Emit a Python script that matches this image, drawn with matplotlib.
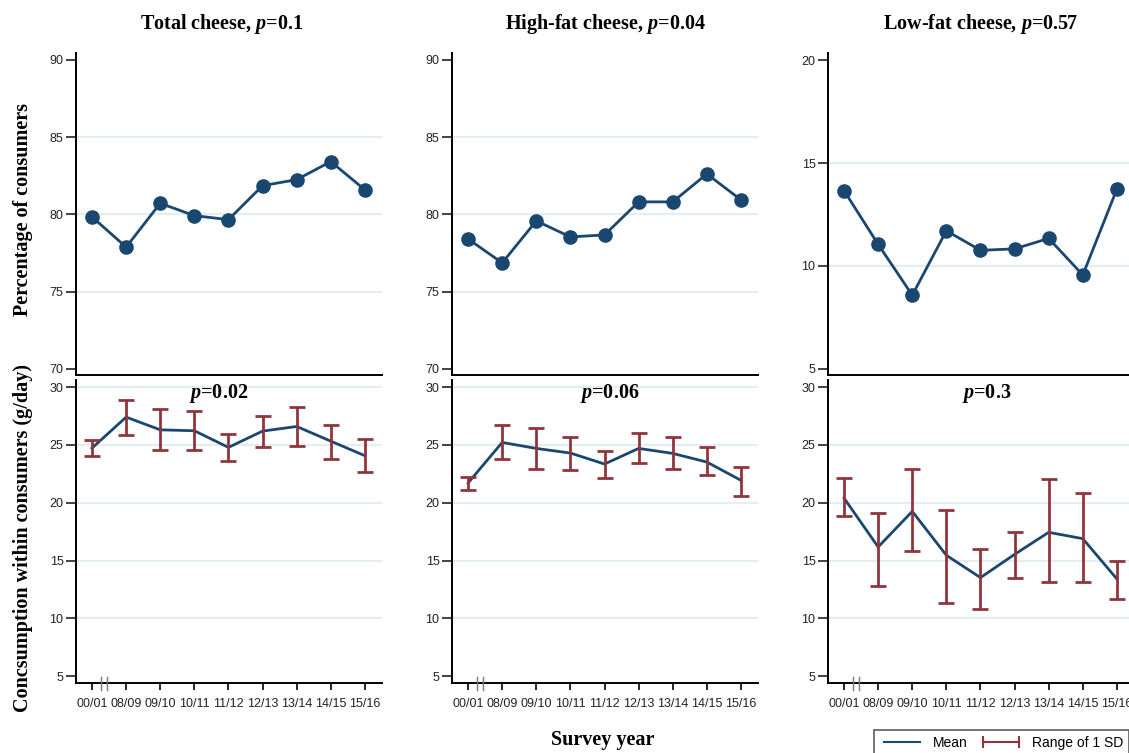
import numpy as np
import matplotlib
matplotlib.use('Agg')
import matplotlib.pyplot as plt
from matplotlib.lines import Line2D

plt.rcParams['mathtext.fontset'] = 'custom'
plt.rcParams['mathtext.rm'] = 'Liberation Serif:bold'
plt.rcParams['mathtext.it'] = 'Liberation Serif:bold:italic'
plt.rcParams['mathtext.bf'] = 'Liberation Serif:bold'

years = ['00/01', '08/09', '09/10', '10/11', '11/12', '12/13', '13/14', '14/15', '15/16']

titles = ['Total cheese, $\\it{p}$=0.1', 'High-fat cheese, $\\it{p}$=0.04', 'Low-fat cheese, $\\it{p}$=0.57']
p_bottom = ['$\\it{p}$=0.02', '$\\it{p}$=0.06', '$\\it{p}$=0.3']

# percentage of consumers
pct_total = [79.84, 77.88, 80.72, 79.92, 79.66, 81.86, 82.25, 83.42, 81.59]
pct_high = [78.41, 76.86, 79.58, 78.54, 78.67, 80.81, 80.81, 82.62, 80.94]
pct_low = [13.66, 11.05, 8.58, 11.71, 10.76, 10.83, 11.34, 9.56, 13.74]

# consumption within consumers (g/day): mean, mean - SD, mean + SD
mean_total = [24.73, 27.41, 26.31, 26.23, 24.79, 26.20, 26.60, 25.33, 24.07]
lo_total = [24.04, 25.88, 24.56, 24.56, 23.61, 24.82, 24.90, 23.81, 22.66]
hi_total = [25.39, 28.93, 28.07, 27.93, 25.97, 27.49, 28.30, 26.77, 25.51]

mean_high = [21.71, 25.22, 24.70, 24.30, 23.35, 24.70, 24.27, 23.52, 21.94]
lo_high = [21.13, 23.75, 22.94, 22.86, 22.17, 23.46, 22.89, 22.37, 20.55]
hi_high = [22.22, 26.69, 26.46, 25.71, 24.44, 26.05, 25.71, 24.79, 23.12]

mean_low = [20.40, 16.17, 19.25, 15.45, 13.52, 15.53, 17.44, 16.89, 13.40]
lo_low = [18.82, 12.82, 15.79, 11.35, 10.84, 13.46, 13.11, 13.11, 11.64]
hi_low = [22.16, 19.14, 22.94, 19.37, 16.02, 17.46, 22.02, 20.84, 14.93]

pct_data = [pct_total, pct_high, pct_low]
cons_data = [(mean_total, lo_total, hi_total), (mean_high, lo_high, hi_high), (mean_low, lo_low, hi_low)]
pct_ticks = [[70, 75, 80, 85, 90], [70, 75, 80, 85, 90], [5, 10, 15, 20]]
pct_lims = [(69.6, 90.45), (69.6, 90.45), (4.7, 20.35)]
cons_ticks = [5, 10, 15, 20, 25, 30]
p_xpos = [0.465, 0.515, 0.52]
title_x = [0.475, 0.5, 0.5]

navy = '#1a476f'
maroon = '#90353b'
grid_c = '#e4eef2'
serif = 'Liberation Serif'
sans = 'Liberation Sans'

fig = plt.figure(figsize=(11.29, 7.53), dpi=100)
lefts = [0.0673, 0.4004, 0.7334]
w = 0.271
x = np.arange(len(years))


def style(ax):
    for s in ['top', 'right']:
        ax.spines[s].set_visible(False)
    for s in ['left', 'bottom']:
        ax.spines[s].set_linewidth(1.4)
    ax.tick_params(axis='y', direction='out', length=7, width=1.2, labelsize=9, colors='#222222', pad=2)
    for lab in ax.get_yticklabels():
        lab.set_fontfamily(sans)
    ax.set_xlim(-0.47, 8.5)


for i in range(3):
    # top row
    ax = fig.add_axes([lefts[i], 0.502, w, 0.4276])
    ax.set_ylim(*pct_lims[i])
    ax.set_yticks(pct_ticks[i])
    for t in pct_ticks[i][1:-1]:
        ax.axhline(t, color=grid_c, lw=1.5, zorder=0)
    ax.plot(x, pct_data[i], color=navy, lw=2, marker='o', markersize=9.5, zorder=3)
    ax.set_xticks([])
    style(ax)
    ax.set_title(titles[i], x=title_x[i], fontfamily=serif, fontweight='bold', fontsize=14.5, pad=17)

    # bottom row
    ax2 = fig.add_axes([lefts[i], 0.093, w, 0.402])
    ax2.set_ylim(4.4, 30.6)
    ax2.set_yticks(cons_ticks)
    grid_at = [10, 15, 20, 25, 30] if i < 2 else [10, 15, 20, 25]
    for t in grid_at:
        ax2.axhline(t, color=grid_c, lw=1.5, zorder=0)
    m, lo, hi = cons_data[i]
    ax2.plot(x, m, color=navy, lw=2, zorder=3)
    ax2.errorbar(x, m, yerr=[np.array(m) - np.array(lo), np.array(hi) - np.array(m)],
                 fmt='none', ecolor=maroon, elinewidth=2, capsize=6, capthick=2, zorder=4)
    ax2.set_xticks(x)
    ax2.set_xticklabels(years, fontfamily=sans, fontsize=9, color='#222222')
    ax2.tick_params(axis='x', direction='out', length=5, width=1.2, pad=6)
    style(ax2)
    # axis break marks
    for bx in [0.255, 0.45]:
        ax2.plot([bx, bx], [3.8, 4.95], color='#777777', lw=1, clip_on=False, zorder=5)
    ax2.text(p_xpos[i], 0.995, p_bottom[i], transform=ax2.transAxes, ha='center', va='top',
             fontfamily=serif, fontweight='bold', fontsize=14.5)

fig.text(0.02, 0.722, 'Percentage of consumers', rotation=90, ha='center', va='center',
         fontfamily=serif, fontweight='bold', fontsize=14.5)
fig.text(0.02, 0.285, 'Concsumption within consumers (g/day)', rotation=90, ha='center', va='center',
         fontfamily=serif, fontweight='bold', fontsize=14.5)
fig.text(0.534, 0.017, 'Survey year', ha='center', va='center',
         fontfamily=serif, fontweight='bold', fontsize=14.5)

handles = [Line2D([], [], color=navy, lw=1.5),
           Line2D([], [], color=maroon, lw=1.5, marker='|', markersize=8, markeredgewidth=1.5)]
leg = fig.legend(handles, ['Mean', 'Range of 1 SD'], loc='upper left', bbox_to_anchor=(0.774, 0.0305),
                 ncol=2, numpoints=2, handlelength=3.2, fancybox=False, edgecolor='#333333',
                 prop={'family': sans, 'size': 10}, borderaxespad=0, columnspacing=0.8,
                 handletextpad=0.6, borderpad=0.45)
leg.get_frame().set_linewidth(1.2)

fig.savefig('out.png', dpi=100)
